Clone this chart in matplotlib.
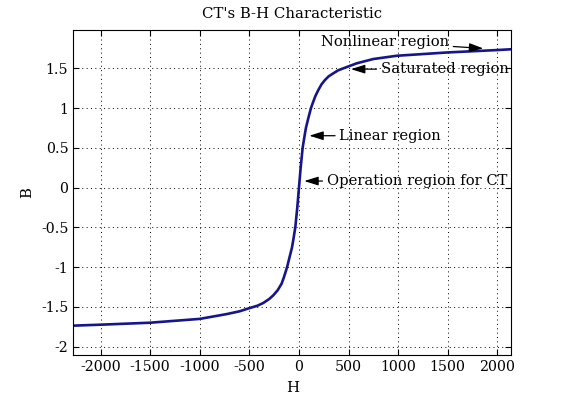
import numpy as np
import matplotlib
matplotlib.use('Agg')
import matplotlib.pyplot as plt

# B-H curve
H = [-2276, -2000, -1500, -1000, -730, -600, -500, -420, -360, -300, -260, -215, -175, -150, -120,
     -94, -70, -55, -37, -17, 0,
     17, 37, 55, 70, 94, 121, 138, 165, 195, 228, 262, 300, 346, 395, 447, 582, 749, 985, 1500, 2000, 2141]
B = [-1.735, -1.723, -1.698, -1.65, -1.59, -1.555, -1.515, -1.485, -1.45, -1.40, -1.355, -1.29, -1.207, -1.12, -1.0,
     -0.87, -0.75, -0.64, -0.5, -0.25, 0.0,
     0.25, 0.5, 0.64, 0.75, 0.873, 1.0, 1.06, 1.15, 1.227, 1.30, 1.353, 1.40, 1.437, 1.475, 1.5, 1.563, 1.617, 1.658,
     1.70, 1.73, 1.74]

xticks = [-2000, -1500, -1000, -500, 0, 500, 1000, 1500, 2000]
yticks = [-2, -1.5, -1, -0.5, 0, 0.5, 1, 1.5]
ylabels = ['-2', '-1.5', '-1', '-0.5', '0', '0.5', '1', '1.5']

# annotations: label, arrow head (H,B), text left (H,B)
notes = ['Nonlinear region', 'Saturated region', 'Linear region', 'Operation region for CT']
heads = [(1859, 1.75), (524, 1.49), (104, 0.653), (53, 0.083)]
texts = [(222, 1.83), (824, 1.49), (406, 0.653), (279, 0.083)]

plt.rcParams['font.family'] = ['DejaVu Serif']
plt.rcParams['font.size'] = 10

fig = plt.figure(figsize=(5.65, 3.99), dpi=100)
ax = fig.add_axes([0.1297, 0.1103, 0.7752, 0.8137])

ax.plot(H, B, color='#15158c', lw=1.9)

ax.set_xlim(-2276, 2141)
ax.set_ylim(-2.104, 1.978)
ax.set_xticks(xticks)
ax.set_xticklabels([str(t) for t in xticks])
ax.set_yticks(yticks)
ax.set_yticklabels(ylabels)
ax.tick_params(direction='in', top=True, right=True, length=4, width=0.8, labelsize=10.2)
ax.grid(True, color='black', linestyle=(0, (1, 3.5)), linewidth=0.7)
for s in ax.spines.values():
    s.set_linewidth(0.8)

ax.set_title("CT's B-H Characteristic", fontsize=10.7, pad=9)
ax.set_xlabel('H', fontsize=10.7, labelpad=5)
ax.set_ylabel('B', fontsize=10.7, labelpad=5)

for lab, hd, tx in zip(notes, heads, texts):
    ax.annotate(lab, xy=hd, xytext=tx, ha='left', va='center', fontsize=10.6,
                arrowprops=dict(arrowstyle='-|>,head_length=0.8,head_width=0.25',
                                color='black', lw=0.9, shrinkA=1, shrinkB=0))

fig.savefig('out.png', dpi=100)
